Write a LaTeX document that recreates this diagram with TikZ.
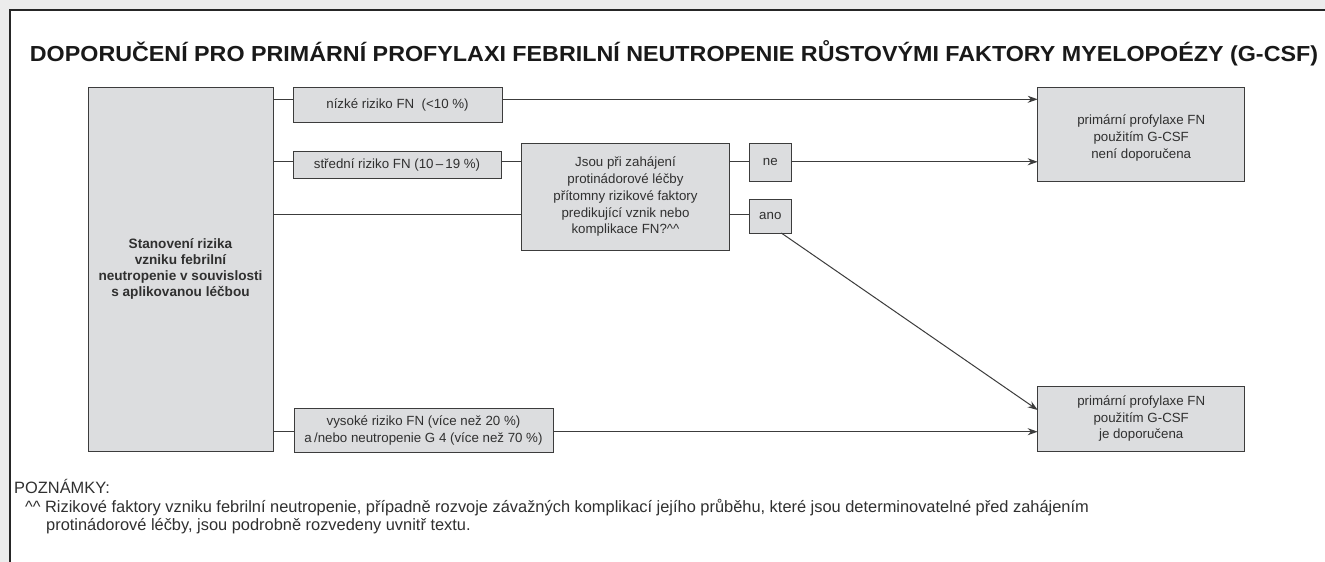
\documentclass[tikz,border=0pt]{standalone}
\usepackage{fontspec}
\setmainfont{Liberation Sans}
\usetikzlibrary{arrows.meta,calc}
\definecolor{boxfill}{HTML}{DCDDDF}
\definecolor{boxline}{HTML}{3C3C3C}
\definecolor{txt}{HTML}{303030}
\definecolor{outer}{HTML}{ECECEC}
\tikzset{
  gbox/.style={draw=boxline, fill=boxfill, line width=1pt, inner sep=0pt, outer sep=0pt,
    anchor=north west, align=center, text=txt, font=\fontsize{13.3}{16.8}\selectfont},
  conn/.style={draw=boxline, line width=1pt},
  arr/.style={conn, -{Stealth[length=10pt,width=7pt]}},
  notetxt/.style={anchor=base west, inner sep=0pt, text=txt, font=\fontsize{16.4}{19}\selectfont}
}
\newcommand{\cc}{\textasciicircum\textasciicircum}
\begin{document}
\begin{tikzpicture}[x=1pt,y=-1pt]
\useasboundingbox (0,0) rectangle (1325,562);
\fill[outer] (0,0) rectangle (1325,562);
\fill[white] (10,10) rectangle (1325,562);
\draw[line width=2.5pt, black!85] (10,562) -- (10,10) -- (1325,10);

\node[anchor=base, inner sep=0pt, text=black!90] (title) at (674,61)
  {\resizebox{1288pt}{21pt}{\bfseries DOPORUČENÍ PRO PRIMÁRNÍ PROFYLAXI FEBRILNÍ NEUTROPENIE RŮSTOVÝMI FAKTORY MYELOPOÉZY (G-CSF)}};

\node[gbox, minimum width=185pt, minimum height=364pt, font=\fontsize{13.6}{16}\selectfont\bfseries] (big) at (88,87)
  {Stanovení rizika\\vzniku febrilní\\neutropenie v souvislosti\\s aplikovanou léčbou};
\node[gbox, minimum width=209pt, minimum height=35pt] (low) at (293,87) {nízké riziko FN\ \ (<10 \%)};
\node[gbox, minimum width=208pt, minimum height=27pt] (mid) at (293,151.5) {střední riziko FN (10\,–\,19 \%)};
\node[gbox, minimum width=208pt, minimum height=107pt] (q) at (521.5,143.3)
  {Jsou při zahájení\\protinádorové léčby\\přítomny rizikové faktory\\predikující vznik nebo\\komplikace FN?\cc};
\node[gbox, minimum width=42pt, minimum height=38pt] (ne) at (749.3,143.3) {ne};
\node[gbox, minimum width=42pt, minimum height=34pt] (ano) at (749.3,199) {ano};
\node[gbox, minimum width=207pt, minimum height=94pt] (nodoc) at (1037.7,87.3)
  {\raisebox{-4pt}[\height][\depth]{\begin{tabular}{@{}c@{}}primární profylaxe FN\\použitím G-CSF\\není doporučena\end{tabular}}};
\node[gbox, minimum width=207pt, minimum height=65pt] (yesdoc) at (1037.7,386)
  {primární profylaxe FN\\použitím G-CSF\\je doporučena};
\node[gbox, minimum width=259pt, minimum height=44pt] (high) at (294,408.3)
  {vysoké riziko FN (více než 20 \%)\\a\,/nebo neutropenie G 4 (více než 70 \%)};

\coordinate (r1) at (0,99.3);
\coordinate (r2) at (0,161.8);
\coordinate (r3) at (0,214.5);
\coordinate (r4) at (0,431.7);
\coordinate (r5) at (0,410);

\draw[conn] (big.east |- r1) -- (low.west |- r1);
\draw[arr] (low.east |- r1) -- (nodoc.west |- r1);
\draw[conn] (big.east |- r2) -- (mid.west |- r2);
\draw[conn] (mid.east |- r2) -- (q.west |- r2);
\draw[conn] (q.east |- r2) -- (ne.west |- r2);
\draw[arr] (ne.east |- r2) -- (nodoc.west |- r2);
\draw[conn] (big.east |- r3) -- (q.west |- r3);
\draw[conn] (q.east |- r3) -- (ano.west |- r3);
\draw[arr] ([xshift=11pt]ano.south) -- (yesdoc.west |- r5);
\draw[conn] (big.east |- r4) -- (high.west |- r4);
\draw[arr] (high.east |- r4) -- (yesdoc.west |- r4);

\node[notetxt] (nh) at (14,493) {POZNÁMKY:};
\node[notetxt] (n1) at (25,512) {\cc\ Rizikové faktory vzniku febrilní neutropenie, případně rozvoje závažných komplikací jejího průběhu, které jsou determinovatelné před zahájením};
\node[notetxt] (n2) at (46,530) {protinádorové léčby, jsou podrobně rozvedeny uvnitř textu.};
\end{tikzpicture}
\end{document}
